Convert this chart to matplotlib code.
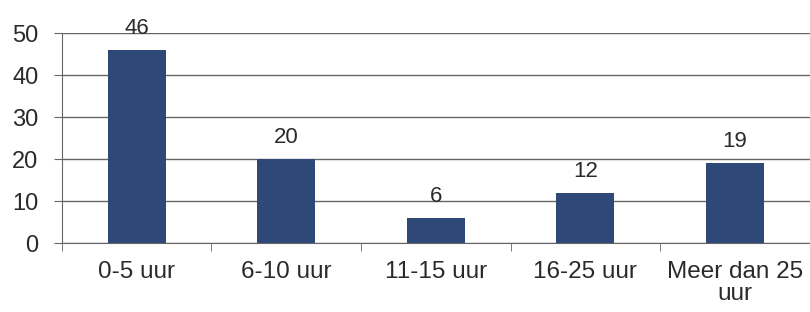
import matplotlib
matplotlib.use("Agg")
import matplotlib.pyplot as plt

categories = ["0-5 uur", "6-10 uur", "11-15 uur", "16-25 uur", "Meer dan 25\nuur"]
values = [46, 20, 6, 12, 19]
yticks = [0, 10, 20, 30, 40, 50]

plt.rcParams['font.family'] = ['Liberation Sans', 'DejaVu Sans']

fig = plt.figure(figsize=(8.1, 3.12), dpi=100)
ax = fig.add_axes([0.0765, 0.221, 0.923, 0.673])

x = list(range(len(categories)))
ax.bar(x, values, width=0.39, color="#2E4877", zorder=3)
for xi, v in zip(x, values):
    ax.text(xi, v + 3.8, str(v), ha="center", va="baseline", fontsize=16, color="#2a2a2a")

ax.set_xlim(-0.5, len(categories) - 0.5)
ax.set_ylim(0, 50)
ax.set_yticks(yticks)
ax.set_yticklabels([str(t) for t in yticks], fontsize=17, color="#2a2a2a")
ax.yaxis.grid(True, color="#666666", linewidth=1.0, zorder=0)
ax.set_xticks(x)
ax.set_xticklabels(categories, fontsize=17.5, color="#2a2a2a", linespacing=1.0)
ax.set_xticks([i - 0.5 for i in range(len(categories) + 1)], minor=True)
ax.tick_params(axis="x", which="major", length=0, pad=13)
ax.tick_params(axis="x", which="minor", length=6, color="#666666", direction="out")
ax.tick_params(axis="y", length=6, color="#666666", pad=11)
for s in ["top", "right"]:
    ax.spines[s].set_visible(False)
ax.spines["left"].set_color("#666666")
ax.spines["bottom"].set_color("#666666")

fig.savefig("out.png", dpi=100)
